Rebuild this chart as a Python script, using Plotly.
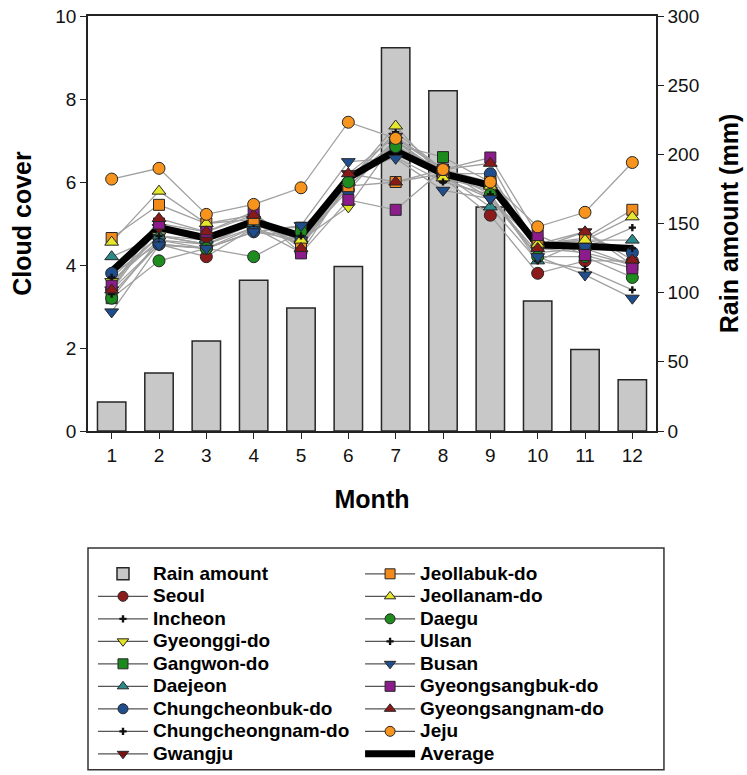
import plotly.graph_objects as go

months = list(range(1, 13))
month_labels = [str(m) for m in months]

rain_amount = [21, 42, 65, 109, 89, 119, 277, 246, 162, 94, 59, 37]

seoul = [3.4, 4.5, 4.2, 4.9, 4.3, 6.0, 6.9, 6.1, 5.2, 3.8, 4.1, 4.1]
incheon = [3.6, 4.6, 4.4, 4.9, 4.5, 5.9, 6.9, 6.1, 5.6, 4.3, 4.4, 4.9]
gyeonggi = [3.6, 4.7, 4.5, 5.0, 4.6, 5.4, 7.0, 6.1, 5.8, 4.4, 4.3, 4.0]
gangwon = [3.2, 4.6, 4.5, 4.9, 4.9, 5.9, 6.9, 6.6, 6.0, 4.5, 4.4, 4.0]
daejeon = [4.2, 4.7, 4.6, 5.0, 4.6, 6.0, 7.0, 6.2, 5.4, 4.1, 4.6, 4.6]
chungbuk = [3.8, 4.5, 4.4, 4.8, 4.6, 5.8, 7.0, 6.2, 6.2, 4.4, 4.5, 4.3]
chungnam = [3.7, 4.7, 4.5, 5.0, 4.5, 6.0, 7.2, 6.3, 5.8, 4.5, 4.6, 4.4]
gwangju = [3.4, 4.9, 4.6, 5.1, 4.5, 6.2, 7.1, 6.3, 5.6, 4.5, 4.8, 4.0]
jeonbuk = [4.65, 5.45, 5.0, 5.1, 4.45, 5.9, 6.0, 6.2, 6.0, 4.5, 4.65, 5.33]
jeonnam = [4.55, 5.78, 5.0, 5.2, 4.6, 6.0, 7.35, 6.1, 5.9, 4.5, 4.6, 5.16]
daegu = [3.2, 4.1, 4.4, 4.2, 4.8, 6.0, 6.85, 6.3, 5.7, 4.2, 4.2, 3.7]
ulsan = [3.3, 4.5, 4.4, 4.8, 4.7, 6.2, 6.6, 6.0, 5.7, 4.1, 3.9, 3.4]
busan = [2.87, 4.48, 4.4, 4.8, 4.95, 6.49, 6.57, 5.8, 5.6, 4.2, 3.76, 3.2]
gyeongbuk = [3.5, 5.0, 4.8, 5.28, 4.28, 5.57, 5.33, 6.3, 6.59, 4.72, 4.24, 3.92]
gyeongnam = [3.4, 5.12, 4.8, 5.2, 4.4, 6.2, 6.0, 6.3, 6.45, 4.4, 4.8, 4.12]
jeju = [6.07, 6.33, 5.22, 5.46, 5.86, 7.44, 7.05, 6.3, 6.0, 4.92, 5.27, 6.47]
average = [3.85, 4.9, 4.65, 5.05, 4.7, 6.1, 6.75, 6.2, 5.92, 4.48, 4.45, 4.4]

region_names = ["Seoul", "Incheon", "Gyeonggi-do", "Gangwon-do", "Daejeon",
                "Chungcheonbuk-do", "Chungcheongnam-do", "Gwangju",
                "Jeollabuk-do", "Jeollanam-do", "Daegu", "Ulsan", "Busan",
                "Gyeongsangbuk-do", "Gyeongsangnam-do", "Jeju"]
region_values = [seoul, incheon, gyeonggi, gangwon, daejeon, chungbuk, chungnam,
                 gwangju, jeonbuk, jeonnam, daegu, ulsan, busan, gyeongbuk,
                 gyeongnam, jeju]
region_symbols = ["circle", "cross", "triangle-down", "square", "triangle-up",
                  "circle", "cross", "triangle-down", "square", "triangle-up",
                  "circle", "cross", "triangle-down", "square", "triangle-up",
                  "circle"]
region_colors = ["#8E1B1B", "#111111", "#E2E224", "#1C8A1C", "#2C8A8A",
                 "#1F4E8F", "#111111", "#7A1212", "#F28A1C", "#E6E62C",
                 "#1E8C1E", "#111111", "#1F4E8F", "#8C1C8C", "#8A1A1A",
                 "#F7941D"]

FONT = "Liberation Sans, Arial, sans-serif"
GRAY_LINE = "#A0A0A0"
OUTLINE = "#262626"


def legend_label(text):
    return '<span style="font-size:19px">' + text + '</span>'


fig = go.Figure()

# Bars (rain amount) on primary y axis (right side)
fig.add_trace(go.Bar(
    x=months, y=rain_amount, name=legend_label("Rain amount"), width=0.6,
    marker=dict(color="#C8C8C8", line=dict(color=OUTLINE, width=1.5)),
    yaxis="y", legend="legend", legendrank=1,
))

# Gray connecting lines of the regions (beneath the average)
for name, vals in zip(region_names, region_values):
    fig.add_trace(go.Scatter(
        x=months, y=vals, mode="lines", yaxis="y2",
        line=dict(color=GRAY_LINE, width=1.3),
        showlegend=False, hoverinfo="skip",
    ))

# Average line
fig.add_trace(go.Scatter(
    x=months, y=average, mode="lines", name=legend_label("Average"), yaxis="y2",
    line=dict(color="black", width=7),
    legend="legend2", legendrank=100,
))


def marker_style(sym, col):
    if sym == "cross":
        return dict(symbol="cross", size=6, color=col, line=dict(width=0))
    size = 11 if sym == "square" else 12
    return dict(symbol=sym, size=size, color=col,
                line=dict(color=OUTLINE, width=1))


# Region markers on top
for name, vals, sym, col in zip(region_names, region_values,
                                region_symbols, region_colors):
    fig.add_trace(go.Scatter(
        x=months, y=vals, mode="markers", yaxis="y2",
        marker=marker_style(sym, col), showlegend=False, name=name,
    ))

# Legend entries (line + marker) for regions
for i, (name, sym, col) in enumerate(zip(region_names, region_symbols, region_colors)):
    ms = marker_style(sym, col)
    if sym != "cross":
        ms["size"] = 10
    fig.add_trace(go.Scatter(
        x=[None], y=[None], mode="lines+markers", name=legend_label(name), yaxis="y2",
        line=dict(color="#555555", width=1.2), marker=ms,
        legend="legend" if i < 8 else "legend2", legendrank=10 + i,
    ))

axis_font = dict(family=FONT, size=19, color="#111111")
title_font = dict(family=FONT, size=25, color="black")
legend_font = dict(family=FONT, size=15, color="black", weight="bold")

fig.update_layout(
    width=747, height=775,
    margin=dict(l=88, r=91, t=16, b=344, autoexpand=False),
    paper_bgcolor="white", plot_bgcolor="white",
    showlegend=True,
    xaxis=dict(
        range=[0.5, 12.5], tickmode="array", tickvals=months, ticktext=month_labels,
        ticks="outside", ticklen=6, tickwidth=1.2, tickcolor="#222",
        showline=True, linecolor="#222", linewidth=1.5, mirror=True,
        showgrid=False, zeroline=False, tickfont=axis_font, automargin=False,
        title=dict(text="<b>Month</b>", font=title_font, standoff=26),
    ),
    yaxis=dict(
        range=[0, 300], side="right", tickvals=[0, 50, 100, 150, 200, 250, 300],
        ticks="outside", ticklen=6, tickwidth=1.2, tickcolor="#222",
        showline=True, linecolor="#222", linewidth=1.5,
        showgrid=False, zeroline=False, tickfont=axis_font, automargin=False,
        title=dict(text="<b>Rain amount (mm)</b>", font=title_font, standoff=22),
    ),
    yaxis2=dict(
        range=[0, 10], side="left", overlaying="y", tickvals=[0, 2, 4, 6, 8, 10],
        ticks="outside", ticklen=6, tickwidth=1.2, tickcolor="#222",
        showline=True, linecolor="#222", linewidth=1.5,
        showgrid=False, zeroline=False, tickfont=axis_font, automargin=False,
        title=dict(text="<b>Cloud cover</b>", font=title_font, standoff=17),
    ),
    legend=dict(
        x=0.0088, y=-0.305, xanchor="left", yanchor="top",
        bgcolor="rgba(0,0,0,0)", borderwidth=0,
        font=legend_font, traceorder="normal", itemwidth=50,
    ),
    legend2=dict(
        x=0.479, y=-0.305, xanchor="left", yanchor="top",
        bgcolor="rgba(0,0,0,0)", borderwidth=0,
        font=legend_font, traceorder="normal", itemwidth=50,
    ),
    shapes=[dict(type="rect", xref="paper", yref="paper",
                 x0=0.0, x1=1.014, y0=-0.2817, y1=-0.8163,
                 line=dict(color="#333", width=1.5), fillcolor="rgba(0,0,0,0)")],
)

fig.write_html("out.html", config={"displayModeBar": False},
               post_script="document.body.style.margin='0';document.body.style.overflow='hidden';")
